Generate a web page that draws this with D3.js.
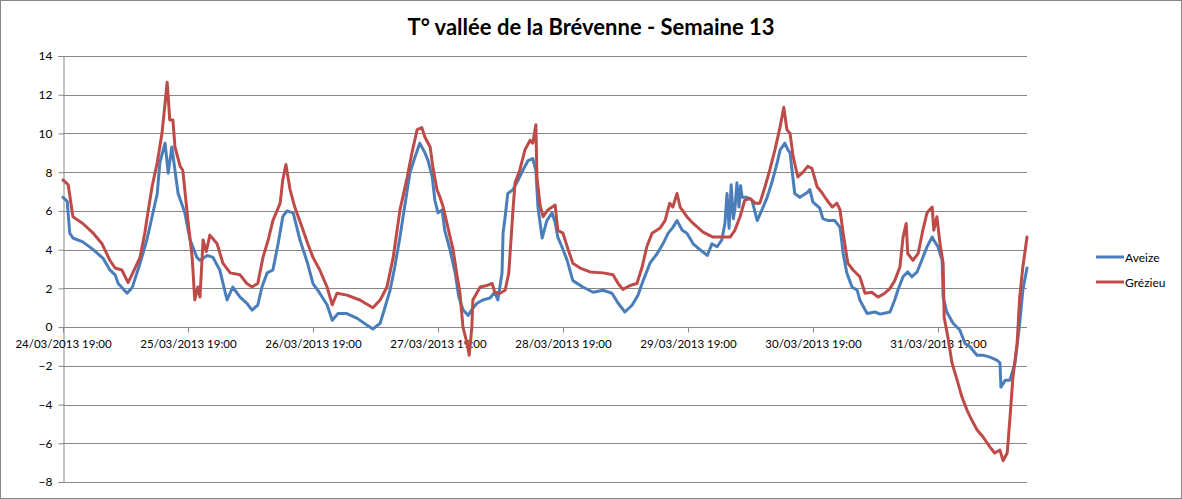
<!DOCTYPE html>
<html>
<head>
<meta charset="utf-8">
<script src="https://cdn.jsdelivr.net/npm/d3@7"></script>
<style>
  html, body { margin: 0; padding: 0; background: #fff; }
  svg { display: block; }
  text { font-family: Lato, "Open Sans", "Liberation Sans", sans-serif; fill: #000; }
</style>
</head>
<body>
<svg id="chart" width="1182" height="499"></svg>
<script>
// ---- data (hours since 24/03/2013 19:00, temperature °C) ----
const startLabel = "24/03/2013 19:00";
const xTickLabels = ["24/03/2013 19:00","25/03/2013 19:00","26/03/2013 19:00","27/03/2013 19:00",
                     "28/03/2013 19:00","29/03/2013 19:00","30/03/2013 19:00","31/03/2013 19:00"];
const yTicks = [-8,-6,-4,-2,0,2,4,6,8,10,12,14];
const seriesNames = ["Aveize","Grézieu"];
const seriesColors = ["#4A7EBB","#BE4B48"];

const aveizeHours = [0,0.8,1.3,1.9,3.8,5.8,7.7,9.0,10.0,10.6,12.3,13.3,14.8,16.1,17.1,18.1,18.6,19.6,20.2,20.9,21.5,22.1,23.4,
  24.4,25.0,25.7,26.3,27.7,28.8,30.1,31.5,32.6,34.0,35.3,36.3,37.4,38.2,39.2,40.3,41.3,42.2,43.0,44.2,45.5,46.9,
  48.0,49.3,50.7,51.7,52.8,54.5,56.5,58.4,59.5,60.9,61.8,62.8,63.7,64.7,65.7,66.6,67.6,68.5,69.5,70.1,70.9,71.4,
  72.0,72.8,73.3,74.3,75.3,76.0,76.8,77.8,78.5,79.5,80.6,82.0,82.9,83.5,84.3,84.5,84.9,85.4,86.4,87.4,88.3,89.3,
  90.2,90.8,91.2,92.0,92.9,93.9,94.5,95.0,95.8,96.8,97.9,99.8,101.8,103.7,105.4,106.6,107.9,109.3,110.4,111.4,
  112.7,114.1,115.2,116.2,117.1,117.9,118.9,119.8,121.0,122.3,123.7,124.6,125.6,126.5,127.1,127.5,127.9,128.3,128.7,129.0,
  129.4,129.8,130.1,130.4,131.3,132.3,133.3,134.2,135.2,136.1,137.1,137.7,138.6,139.2,139.6,140.5,141.5,142.9,143.4,144.0,
  145.3,145.9,146.9,148.2,149.2,149.8,150.5,151.5,152.5,153.0,154.4,155.9,156.9,158.8,159.7,160.3,161.3,162.2,
  163.0,164.0,164.9,165.9,166.9,167.4,168.0,168.8,169.0,169.7,170.9,172.2,173.2,174.1,175.5,176.6,178.0,179.3,
  179.9,180.1,180.9,181.8,182.8,183.7,184.3,185.1];
const aveizeTemp = [6.7,6.5,4.85,4.6,4.4,4.0,3.55,2.95,2.7,2.25,1.75,2.05,3.3,4.5,5.7,6.9,8.5,9.5,7.95,9.3,8.1,6.9,5.9,
  4.5,4.1,3.6,3.45,3.7,3.6,2.95,1.4,2.07,1.55,1.23,0.88,1.14,2.07,2.8,2.95,4.3,5.7,6.0,5.9,4.5,3.35,
  2.25,1.75,1.15,0.35,0.7,0.7,0.45,0.1,-0.1,0.2,1.0,1.9,3.1,4.65,6.4,7.95,8.8,9.5,9.0,8.6,7.75,6.55,
  5.9,6.05,5.0,4.0,2.8,1.55,0.9,0.6,0.9,1.23,1.4,1.5,1.8,1.4,2.8,4.85,5.7,6.9,7.1,7.6,8.1,8.6,
  8.7,8.1,6.2,4.6,5.5,5.9,5.4,4.65,4.15,3.45,2.4,2.07,1.8,1.9,1.75,1.23,0.78,1.14,1.65,2.4,
  3.3,3.8,4.3,4.85,5.15,5.5,5.0,4.85,4.3,4.0,3.7,4.3,4.15,4.5,5.35,6.9,5.1,7.35,5.6,6.05,
  7.45,6.2,7.3,6.7,6.7,6.55,5.5,6.05,6.7,7.45,8.45,9.15,9.5,9.15,9.0,6.9,6.7,6.95,7.1,6.45,
  6.15,5.6,5.5,5.5,5.15,3.8,2.8,2.07,1.9,1.4,0.7,0.78,0.67,0.78,1.4,1.9,2.6,2.85,
  2.6,2.85,3.45,4.15,4.65,4.4,4.15,3.45,1.55,0.78,0.2,-0.15,-0.85,-1.0,-1.45,-1.45,-1.55,-1.7,
  -1.85,-3.1,-2.75,-2.75,-1.85,0.2,1.9,3.05];

const grezieuHours = [0,1.0,1.9,3.8,5.8,7.5,9.0,10.0,11.3,12.5,13.4,14.8,15.7,16.3,17.1,18.1,19.0,19.6,20.0,20.5,21.1,21.5,
  22.5,23.0,24.0,24.8,25.3,25.9,26.3,26.9,27.5,28.2,29.6,30.7,32.1,34.0,35.3,36.3,37.4,38.4,39.4,40.3,41.7,42.2,
  42.8,43.6,44.5,45.9,47.0,48.0,49.3,50.7,51.7,52.6,54.5,57.0,59.5,60.9,62.2,63.4,64.7,66.1,67.0,68.0,68.9,69.5,
  70.5,71.0,71.8,72.4,73.0,73.9,74.9,75.7,76.2,76.8,77.6,78.0,78.5,78.7,80.1,81.4,82.4,82.9,83.9,84.9,85.6,86.4,
  86.8,87.7,88.7,89.7,90.2,90.8,91.0,91.6,92.2,93.1,94.5,95.0,96.0,97.0,97.9,99.3,101.2,103.7,105.6,106.6,107.5,
  108.9,110.2,111.2,112.1,113.1,114.6,115.6,116.5,117.1,117.9,118.5,119.8,121.0,122.9,124.8,126.7,128.1,129.0,
  130.0,130.9,131.9,132.9,133.8,134.8,135.7,136.7,137.7,138.4,139.0,139.6,140.2,141.1,142.1,143.0,143.8,144.8,
  145.7,146.7,147.7,148.6,149.2,149.8,150.7,151.7,153.0,154.0,155.3,156.5,157.8,158.8,159.7,160.7,161.3,161.9,
  162.2,163.2,164.2,165.1,165.9,166.9,167.2,167.8,168.4,169.0,169.2,169.9,170.7,171.7,172.6,173.6,174.5,175.5,
  176.6,178.0,178.9,179.9,180.5,181.3,181.8,182.4,183.2,183.7,184.3,185.1];
const grezieuTemp = [7.6,7.35,5.7,5.35,4.85,4.3,3.45,3.05,2.95,2.3,2.8,3.6,4.85,5.9,7.25,8.5,10.0,11.55,12.65,10.7,10.7,9.3,
  8.3,8.1,5.5,3.6,1.4,2.07,1.55,4.5,3.9,4.75,4.3,3.3,2.8,2.7,2.25,2.07,2.25,3.6,4.5,5.5,6.4,7.6,
  8.4,7.1,6.2,5.15,4.3,3.6,2.95,2.07,1.15,1.75,1.65,1.4,1.0,1.4,2.07,3.6,6.05,7.75,9.0,10.2,10.3,9.8,
  9.3,8.3,7.1,6.7,6.2,5.15,4.0,2.6,1.8,0.0,-0.85,-1.45,0.0,1.4,2.07,2.15,2.25,1.8,1.75,1.9,2.8,6.05,
  7.45,8.1,9.15,9.65,9.5,10.45,7.75,6.3,5.7,6.05,6.3,5.0,4.85,4.0,3.3,3.05,2.85,2.8,2.7,2.25,1.95,
  2.15,2.25,3.1,4.15,4.85,5.1,5.5,6.4,6.2,6.9,6.2,5.7,5.35,4.9,4.65,4.65,4.65,5.0,
  5.7,6.55,6.65,6.4,6.4,7.25,8.1,9.15,10.35,11.35,10.2,10.0,8.8,7.75,8.0,8.3,8.2,7.25,
  6.95,6.55,6.2,6.4,6.05,4.85,3.3,2.95,2.6,1.75,1.8,1.55,1.75,2.0,2.4,3.1,4.65,5.35,
  3.8,3.45,3.8,5.0,5.9,6.2,5.0,5.7,4.3,3.3,0.5,-0.5,-1.85,-2.75,-3.6,-4.3,-4.8,-5.3,
  -5.65,-6.2,-6.5,-6.35,-6.9,-6.5,-4.8,-2.6,-0.85,1.55,3.1,4.65];

// ---- chart ----
const W = 1182, H = 499;
const svg = d3.select("#chart");
const parse = d3.timeParse("%d/%m/%Y %H:%M");
const fmt = d3.timeFormat("%d/%m/%Y %H:%M");
const t0 = parse(startLabel);
const toDate = h => new Date(t0.getTime() + h * 3600000);
const plot = {left: 63, right: 1027, top: 56, bottom: 482};
const endHours = 185.1;

const x = d3.scaleTime().domain([t0, toDate(endHours)]).range([plot.left, plot.right]);
const y = d3.scaleLinear().domain([-8, 14]).range([plot.bottom, plot.top]);

// outer border
svg.append("rect").attr("x", 0.5).attr("y", 0.5).attr("width", W - 1).attr("height", H - 1)
  .attr("fill", "#fff").attr("stroke", "#868686");

// title
svg.append("text").attr("x", 591).attr("y", 35).attr("text-anchor", "middle")
  .style("font-size", "22px").style("font-weight", "bold")
  .text("T° vallée de la Brévenne - Semaine 13");

// gridlines
svg.append("g").selectAll("line").data(yTicks).join("line")
  .attr("x1", plot.left).attr("x2", plot.right)
  .attr("y1", d => Math.round(y(d)) + 0.5).attr("y2", d => Math.round(y(d)) + 0.5)
  .attr("stroke", "#868686").attr("stroke-width", 1);

// y axis
const yAxis = d3.axisLeft(y).tickValues(yTicks).tickSize(5).tickPadding(6).tickFormat(d3.format("d"));
const gy = svg.append("g").attr("transform", `translate(${plot.left + 0.5},0)`).call(yAxis);
gy.select(".domain").attr("stroke", "#868686");
gy.selectAll(".tick line").attr("stroke", "#868686");
gy.selectAll(".tick text").style("font-size", "12px").style("font-family", "Lato, 'Open Sans', sans-serif").attr("fill", "#000");

// x axis at y = 0
const xTicks = xTickLabels.map(parse);
const xAxis = d3.axisBottom(x).tickValues(xTicks).tickSize(5).tickPadding(7).tickFormat(fmt);
const gx = svg.append("g").attr("transform", `translate(0,${Math.round(y(0)) + 0.5})`).call(xAxis);
gx.select(".domain").attr("stroke", "#868686").attr("d", `M${plot.left},0H${plot.right}`);
gx.selectAll(".tick line").attr("stroke", "#868686");
gx.selectAll(".tick text").style("font-size", "11.5px").style("font-family", "Lato, 'Open Sans', sans-serif").attr("fill", "#000");

// series
const series = [
  {name: seriesNames[0], color: seriesColors[0], pts: aveizeHours.map((h, i) => [toDate(h), aveizeTemp[i]])},
  {name: seriesNames[1], color: seriesColors[1], pts: grezieuHours.map((h, i) => [toDate(h), grezieuTemp[i]])}
];
const line = d3.line().x(d => x(d[0])).y(d => y(d[1]));
svg.append("g").selectAll("path").data(series).join("path")
  .attr("d", d => line(d.pts))
  .attr("fill", "none").attr("stroke", d => d.color)
  .attr("stroke-width", 3).attr("stroke-linejoin", "round").attr("stroke-linecap", "round");

// legend
const lg = svg.append("g").selectAll("g").data(series).join("g")
  .attr("transform", (d, i) => `translate(1096,${257 + i * 25})`);
lg.append("line").attr("x1", 0).attr("x2", 28).attr("y1", 0).attr("y2", 0)
  .attr("stroke", d => d.color).attr("stroke-width", 3);
lg.append("text").attr("x", 29).attr("y", 4.5).style("font-size", "12px").text(d => d.name);
</script>
</body>
</html>
